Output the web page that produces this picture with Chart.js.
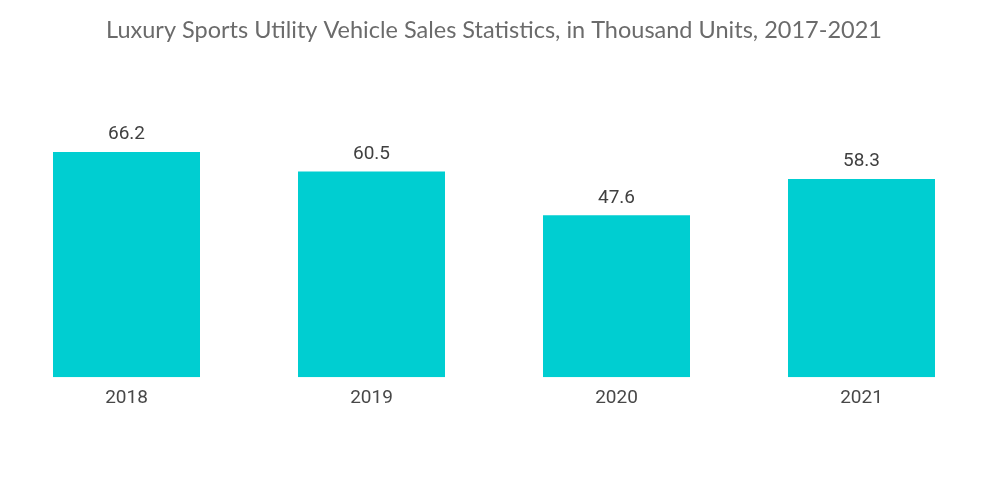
<!DOCTYPE html>
<html>
<head>
<meta charset="utf-8">
<script src="https://cdn.jsdelivr.net/npm/chart.js@4"></script>
<style>
  html, body { margin: 0; padding: 0; background: #fff; }
  #wrap { width: 1000px; height: 504px; position: relative; }
</style>
</head>
<body>
<div id="wrap"><canvas id="salesChart"></canvas></div>
<script>
const years = ['2018', '2019', '2020', '2021'];
const salesK = [66.2, 60.5, 47.6, 58.3];

const chartTitle = 'Luxury Sports Utility Vehicle Sales Statistics, in Thousand Units, 2017-2021';

// value labels above each bar
const barValues = {
    id: 'barValues',
    afterDatasetsDraw(chart) {
        const ctx = chart.ctx;
        const meta = chart.getDatasetMeta(0);
        ctx.save();
        ctx.font = '19px Roboto';
        ctx.fillStyle = '#404040';
        ctx.textAlign = 'center';
        ctx.textBaseline = 'bottom';
        meta.data.forEach((bar, i) => {
            ctx.fillText(salesK[i].toFixed(1), bar.x, bar.y - 8);
        });
        ctx.restore();
    }
};

new Chart(document.getElementById('salesChart').getContext('2d'), {
    type: 'bar',
    data: {
        labels: years,
        datasets: [{
            data: salesK,
            backgroundColor: '#00CED1',
            barPercentage: 0.6,
            categoryPercentage: 1.0
        }]
    },
    options: {
        responsive: true,
        maintainAspectRatio: false,
        animation: false,
        layout: { padding: { left: 4, right: 16, top: 0, bottom: 92 } },
        scales: {
            x: {
                grid: { display: false },
                border: { display: false },
                ticks: { color: '#484848', font: { family: 'Roboto', size: 19 }, padding: 2 }
            },
            y: {
                display: false,
                min: 0,
                max: 80
            }
        },
        plugins: {
            legend: { display: false },
            tooltip: { enabled: false },
            title: {
                display: true,
                text: chartTitle,
                color: '#6b6b6b',
                font: { family: 'Lato', size: 23.5, weight: 'normal' },
                padding: { top: 16, bottom: 61 }
            }
        }
    },
    plugins: [barValues]
});
</script>
</body>
</html>
